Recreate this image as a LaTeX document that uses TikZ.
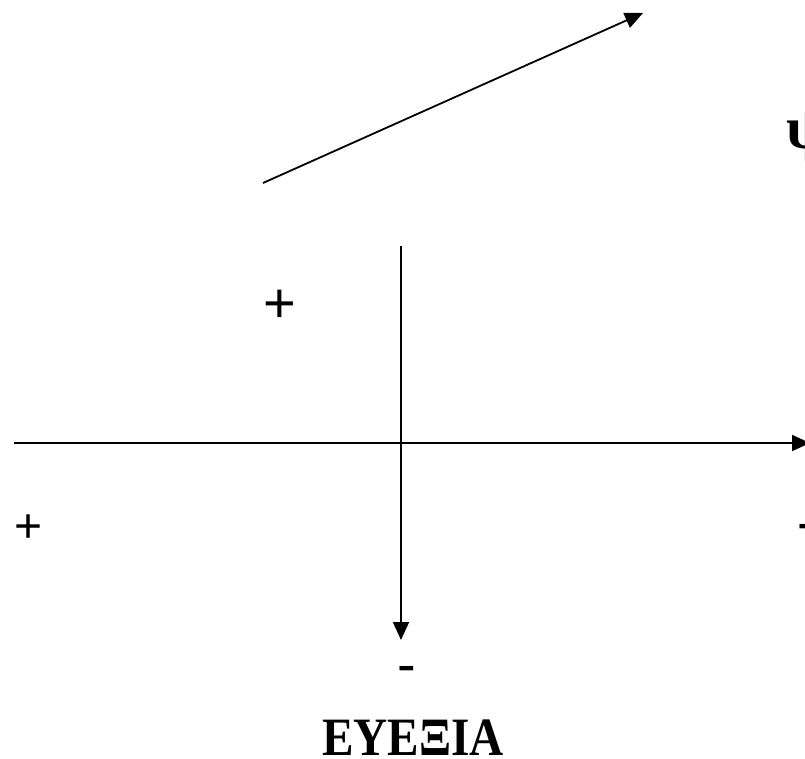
\documentclass[tikz,border=0pt]{standalone}
\usepackage{fontspec}
\setmainfont{Liberation Serif}
\newfontfamily\arialf{Liberation Sans}
\usetikzlibrary{arrows.meta}
\tikzset{
  axis/.style={line width=1.8pt, -{Triangle[length=18pt,width=16pt]}},
  signlbl/.style={font=\arialf\fontsize{56}{60}\selectfont, inner sep=0pt, anchor=base},
  titlelbl/.style={font=\bfseries\fontsize{56}{60}\selectfont, inner sep=0pt, anchor=base},
}
\begin{document}
\begin{tikzpicture}[x=1pt,y=-1pt]
\useasboundingbox (0,0) rectangle (805,758);
\clip (0,0) rectangle (805,758);
\fill[white] (0,0) rectangle (805,758);
% coordinates
\coordinate (dstart) at (263,183);
\coordinate (dend) at (643,13);
\coordinate (vstart) at (401,246);
\coordinate (vend) at (401,640);
\coordinate (hstart) at (14,443);
\coordinate (hend) at (810,443);
% arrows
\draw[axis] (dstart) -- (dend);
\draw[axis] (vstart) -- (vend);
\draw[axis] (hstart) -- (hend);
% labels
\node[signlbl] (plusA) at (280,322) {+};
\node[signlbl, font=\arialf\fontsize{48}{52}\selectfont] (plusB) at (29,542) {+};
\node[signlbl] (minusA) at (407,683) {-};
\node[signlbl, anchor=base west] (minusB) at (797,541) {-};
\node[titlelbl, anchor=base west, font=\bfseries\fontsize{60}{64}\selectfont] (psi) at (786,148) {ψ};
\node[titlelbl, font=\bfseries\fontsize{54}{58}\selectfont, xscale=0.875] (title) at (413,755) {ΕΥΕΞΙΑ};
\end{tikzpicture}
\end{document}
